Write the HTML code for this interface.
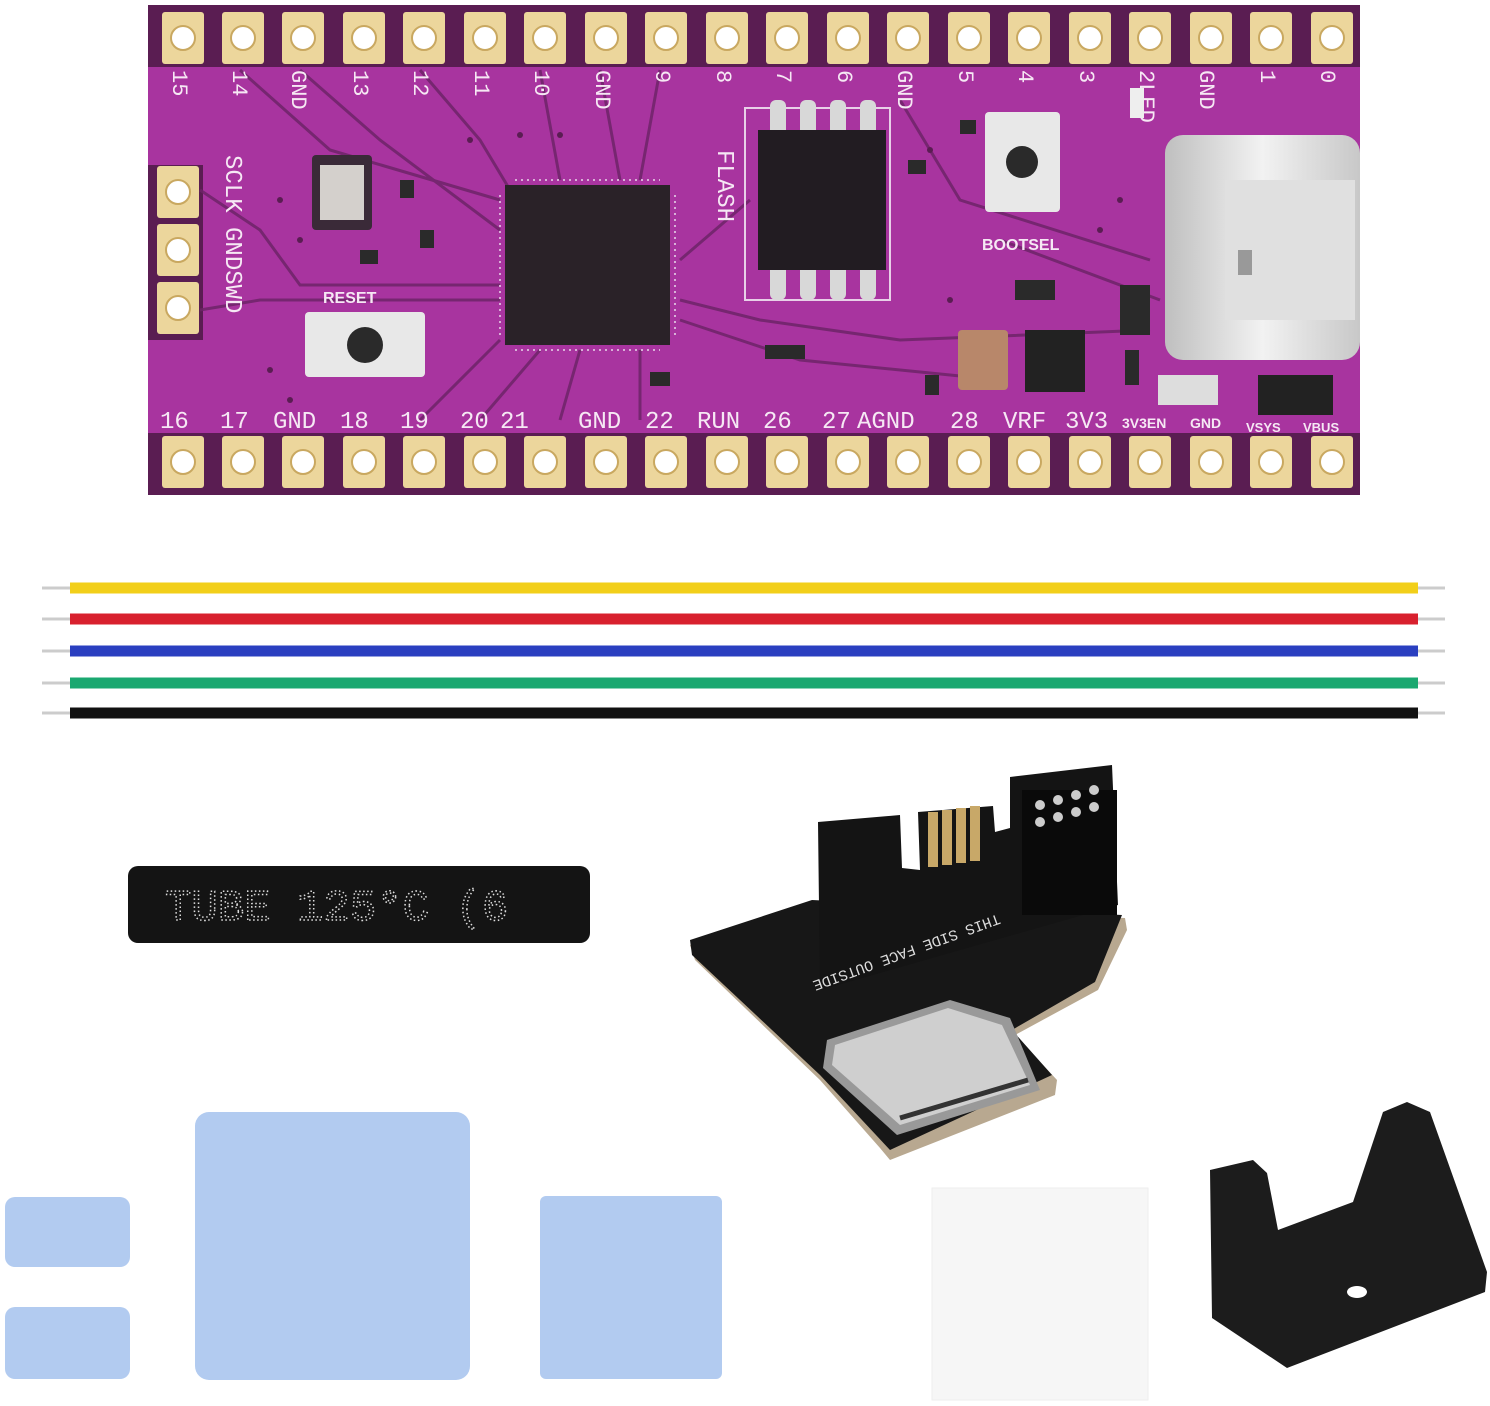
<!DOCTYPE html>
<html><head><meta charset="utf-8"><style>
html,body{margin:0;padding:0;background:#fff;}
svg{display:block}
</style></head><body>
<svg width="1490" height="1406" viewBox="0 0 1490 1406" xmlns="http://www.w3.org/2000/svg" font-family="Liberation Sans, sans-serif">
<defs>
<g id="pad"><rect x="-21" y="-26" width="42" height="52" rx="3" fill="#ecd69c"/><circle r="12" fill="#fff"/><circle r="12" fill="none" stroke="#c9a860" stroke-width="2"/></g>
<linearGradient id="usb" x1="0" x2="1"><stop offset="0" stop-color="#bfbfbf"/><stop offset=".5" stop-color="#f2f2f2"/><stop offset="1" stop-color="#c8c8c8"/></linearGradient>
</defs>
<!-- PCB -->
<rect x="148" y="5" width="1212" height="490" rx="4" fill="#a8349f"/>
<rect x="148" y="5" width="1212" height="62" fill="#5a1d52"/>
<rect x="148" y="433" width="1212" height="62" fill="#5a1d52"/>
<rect x="148" y="165" width="55" height="175" fill="#5a1d52"/>
<g stroke="#6e2468" stroke-width="3" fill="none" opacity=".85">
<path d="M240 70 L330 150 L500 200"/><path d="M300 70 L380 140 L500 230"/><path d="M420 70 L480 140 L510 190"/>
<path d="M540 70 L560 180"/><path d="M600 70 L620 180"/><path d="M660 70 L640 180"/>
<path d="M680 260 L750 200"/><path d="M680 300 L760 320 L900 340 L1150 330"/><path d="M680 320 L800 360 L1000 380"/>
<path d="M500 340 L420 420"/><path d="M540 350 L480 420"/><path d="M580 350 L560 420"/><path d="M640 350 L640 420"/>
<path d="M900 100 L960 200 L1150 260"/><path d="M1000 240 L1160 300"/>
<path d="M200 190 L260 230 L300 285 L500 285"/><path d="M200 310 L260 300 L500 300"/>
</g>
<g fill="#5a1d52">
<circle cx="470" cy="140" r="3"/><circle cx="520" cy="135" r="3"/><circle cx="560" cy="135" r="3"/><circle cx="280" cy="200" r="3"/><circle cx="300" cy="240" r="3"/><circle cx="270" cy="370" r="3"/><circle cx="290" cy="400" r="3"/><circle cx="930" cy="150" r="3"/><circle cx="950" cy="300" r="3"/><circle cx="1100" cy="230" r="3"/><circle cx="1120" cy="200" r="3"/>
</g>
<g>
<use href="#pad" x="183" y="38"/><use href="#pad" x="243" y="38"/><use href="#pad" x="303" y="38"/><use href="#pad" x="364" y="38"/><use href="#pad" x="424" y="38"/><use href="#pad" x="485" y="38"/><use href="#pad" x="545" y="38"/><use href="#pad" x="606" y="38"/><use href="#pad" x="666" y="38"/><use href="#pad" x="727" y="38"/><use href="#pad" x="787" y="38"/><use href="#pad" x="848" y="38"/><use href="#pad" x="908" y="38"/><use href="#pad" x="969" y="38"/><use href="#pad" x="1029" y="38"/><use href="#pad" x="1090" y="38"/><use href="#pad" x="1150" y="38"/><use href="#pad" x="1211" y="38"/><use href="#pad" x="1271" y="38"/><use href="#pad" x="1332" y="38"/>
</g>
<g>
<use href="#pad" x="183" y="462"/><use href="#pad" x="243" y="462"/><use href="#pad" x="303" y="462"/><use href="#pad" x="364" y="462"/><use href="#pad" x="424" y="462"/><use href="#pad" x="485" y="462"/><use href="#pad" x="545" y="462"/><use href="#pad" x="606" y="462"/><use href="#pad" x="666" y="462"/><use href="#pad" x="727" y="462"/><use href="#pad" x="787" y="462"/><use href="#pad" x="848" y="462"/><use href="#pad" x="908" y="462"/><use href="#pad" x="969" y="462"/><use href="#pad" x="1029" y="462"/><use href="#pad" x="1090" y="462"/><use href="#pad" x="1150" y="462"/><use href="#pad" x="1211" y="462"/><use href="#pad" x="1271" y="462"/><use href="#pad" x="1332" y="462"/>
</g>
<use href="#pad" x="178" y="192"/><use href="#pad" x="178" y="250"/><use href="#pad" x="178" y="308"/>
<g fill="#f6e8f4" font-size="24" font-family="Liberation Mono, monospace">
<text x="160" y="428">16</text><text x="220" y="428">17</text><text x="273" y="428">GND</text><text x="340" y="428">18</text><text x="400" y="428">19</text><text x="460" y="428">20</text><text x="500" y="428">21</text><text x="578" y="428">GND</text><text x="645" y="428">22</text><text x="697" y="428">RUN</text><text x="763" y="428">26</text><text x="822" y="428">27</text><text x="857" y="428">AGND</text><text x="950" y="428">28</text><text x="1003" y="428">VRF</text><text x="1065" y="428">3V3</text>
</g>
<g fill="#f6e8f4" font-weight="bold">
<text x="1122" y="428" font-size="14">3V3EN</text><text x="1190" y="428" font-size="14">GND</text><text x="1246" y="432" font-size="13">VSYS</text><text x="1303" y="432" font-size="13">VBUS</text>
<text x="323" y="303" font-size="16">RESET</text><text x="982" y="250" font-size="16">BOOTSEL</text>
</g>
<g fill="#f6e8f4" font-size="22" font-family="Liberation Mono, monospace">
<text transform="translate(173,70) rotate(90)">15</text><text transform="translate(233,70) rotate(90)">14</text><text transform="translate(292,70) rotate(90)">GND</text><text transform="translate(354,70) rotate(90)">13</text><text transform="translate(414,70) rotate(90)">12</text><text transform="translate(475,70) rotate(90)">11</text><text transform="translate(535,70) rotate(90)">10</text><text transform="translate(596,70) rotate(90)">GND</text><text transform="translate(656,70) rotate(90)">9</text><text transform="translate(717,70) rotate(90)">8</text><text transform="translate(777,70) rotate(90)">7</text><text transform="translate(838,70) rotate(90)">6</text><text transform="translate(898,70) rotate(90)">GND</text><text transform="translate(959,70) rotate(90)">5</text><text transform="translate(1019,70) rotate(90)">4</text><text transform="translate(1080,70) rotate(90)">3</text><text transform="translate(1140,70) rotate(90)">2LED</text><text transform="translate(1200,70) rotate(90)">GND</text><text transform="translate(1261,70) rotate(90)">1</text><text transform="translate(1321,70) rotate(90)">0</text>
<text transform="translate(226,155) rotate(90)" font-size="24">SCLK GNDSWD</text>
<text transform="translate(718,150) rotate(90)" font-size="24">FLASH</text>
</g>
<rect x="312" y="155" width="60" height="75" rx="4" fill="#3a2a38"/><rect x="320" y="165" width="44" height="55" fill="#d4d0cc"/>
<rect x="505" y="185" width="165" height="160" fill="#2a2228"/>
<g stroke="#d8b0d8" stroke-width="2"><line x1="500" y1="195" x2="500" y2="335" stroke-dasharray="2 4"/><line x1="675" y1="195" x2="675" y2="335" stroke-dasharray="2 4"/><line x1="515" y1="180" x2="660" y2="180" stroke-dasharray="2 4"/><line x1="515" y1="350" x2="660" y2="350" stroke-dasharray="2 4"/></g>
<rect x="745" y="108" width="145" height="192" fill="none" stroke="#e8cfe8" stroke-width="2"/>
<g fill="#d8d8d8"><rect x="770" y="100" width="16" height="38" rx="6"/><rect x="800" y="100" width="16" height="38" rx="6"/><rect x="830" y="100" width="16" height="38" rx="6"/><rect x="860" y="100" width="16" height="38" rx="6"/><rect x="770" y="262" width="16" height="38" rx="6"/><rect x="800" y="262" width="16" height="38" rx="6"/><rect x="830" y="262" width="16" height="38" rx="6"/><rect x="860" y="262" width="16" height="38" rx="6"/></g>
<rect x="758" y="130" width="128" height="140" fill="#221c22"/>
<rect x="985" y="112" width="75" height="100" rx="4" fill="#e8e8e8"/><circle cx="1022" cy="162" r="16" fill="#2a2a2a"/>
<rect x="305" y="312" width="120" height="65" rx="4" fill="#e8e8e8"/><circle cx="365" cy="345" r="18" fill="#2a2a2a"/>
<rect x="1165" y="135" width="195" height="225" rx="18" fill="url(#usb)"/>
<rect x="1225" y="180" width="130" height="140" fill="#e0e0e0"/><rect x="1238" y="250" width="14" height="25" fill="#999"/>
<rect x="958" y="330" width="50" height="60" rx="4" fill="#b8876a"/><rect x="1025" y="330" width="60" height="62" fill="#222"/><rect x="1258" y="375" width="75" height="40" fill="#222"/>
<rect x="1158" y="375" width="60" height="30" fill="#ddd"/><rect x="1130" y="88" width="14" height="30" fill="#eee"/>
<g fill="#2a2a2a"><rect x="400" y="180" width="14" height="18"/><rect x="420" y="230" width="14" height="18"/><rect x="360" y="250" width="18" height="14"/><rect x="650" y="372" width="20" height="14"/><rect x="765" y="345" width="40" height="14"/><rect x="908" y="160" width="18" height="14"/><rect x="960" y="120" width="16" height="14"/><rect x="1120" y="285" width="30" height="50"/><rect x="1015" y="280" width="40" height="20"/><rect x="925" y="375" width="14" height="20"/><rect x="1125" y="350" width="14" height="35"/></g>
<!-- wires -->
<g stroke="#ccc" stroke-width="3"><line x1="42" y1="588" x2="70" y2="588"/><line x1="42" y1="619" x2="70" y2="619"/><line x1="42" y1="651" x2="70" y2="651"/><line x1="42" y1="683" x2="70" y2="683"/><line x1="42" y1="713" x2="70" y2="713"/>
<line x1="1418" y1="588" x2="1445" y2="588"/><line x1="1418" y1="619" x2="1445" y2="619"/><line x1="1418" y1="651" x2="1445" y2="651"/><line x1="1418" y1="683" x2="1445" y2="683"/><line x1="1418" y1="713" x2="1445" y2="713"/></g>
<g stroke-width="11"><line x1="70" y1="588" x2="1418" y2="588" stroke="#f2cf1a"/><line x1="70" y1="619" x2="1418" y2="619" stroke="#d8202e"/><line x1="70" y1="651" x2="1418" y2="651" stroke="#2a3fc0"/><line x1="70" y1="683" x2="1418" y2="683" stroke="#1aa870"/><line x1="70" y1="713" x2="1418" y2="713" stroke="#111"/></g>
<!-- tube -->
<rect x="128" y="866" width="462" height="77" rx="10" fill="#141414"/>
<text x="165" y="920" font-family="Liberation Mono, monospace" font-size="44" fill="none" stroke="#ddd" stroke-width="1.5" stroke-dasharray="1.5 2.5">TUBE 125°C (6</text>
<!-- adapter base -->
<polygon points="690,945 812,905 1125,918 1127,930 1098,990 1015,1035 1057,1080 1055,1095 890,1160 880,1148 820,1080 695,960" fill="#b8a890"/>
<polygon points="690,940 812,900 1122,915 1095,982 1012,1030 1052,1075 890,1150 820,1075 692,955" fill="#171717"/>
<!-- upper panel -->
<polygon points="818,822 900,815 902,868 920,870 918,812 993,806 995,832 1010,828 1010,777 1112,765 1118,905 820,990" fill="#141414"/>
<g fill="#c8a868"><rect x="928" y="812" width="10" height="55"/><rect x="942" y="810" width="10" height="55"/><rect x="956" y="808" width="10" height="55"/><rect x="970" y="806" width="10" height="55"/></g>
<rect x="1022" y="790" width="95" height="125" fill="#0a0a0a"/>
<g fill="#ccc"><circle cx="1040" cy="805" r="5"/><circle cx="1058" cy="800" r="5"/><circle cx="1076" cy="795" r="5"/><circle cx="1094" cy="790" r="5"/><circle cx="1040" cy="822" r="5"/><circle cx="1058" cy="817" r="5"/><circle cx="1076" cy="812" r="5"/><circle cx="1094" cy="807" r="5"/></g>
<text transform="translate(998,914) rotate(160)" font-family="Liberation Mono, monospace" font-size="15" fill="#ddd">THIS SIDE FACE OUTSIDE</text>
<!-- SD card -->
<polygon points="827,1040 950,1000 1010,1018 1040,1090 897,1135 823,1068" fill="#999"/>
<polygon points="835,1045 948,1008 1002,1025 1030,1085 900,1125 832,1065" fill="#cfcfcf"/>
<line x1="900" y1="1118" x2="1028" y2="1080" stroke="#333" stroke-width="5"/>
<!-- blue pads -->
<g fill="#b2cbf0"><rect x="5" y="1197" width="125" height="70" rx="10"/><rect x="5" y="1307" width="125" height="72" rx="10"/><rect x="195" y="1112" width="275" height="268" rx="14"/><rect x="540" y="1196" width="182" height="183" rx="6"/></g>
<rect x="932" y="1188" width="216" height="212" fill="#f6f6f6" stroke="#eee"/>
<!-- stand -->
<polygon points="1210,1170 1253,1160 1267,1173 1278,1230 1353,1202 1383,1112 1407,1102 1430,1112 1487,1272 1485,1292 1287,1368 1212,1318" fill="#1c1c1c"/>
<ellipse cx="1357" cy="1292" rx="10" ry="6" fill="#fff"/>
</svg>
</body></html>
